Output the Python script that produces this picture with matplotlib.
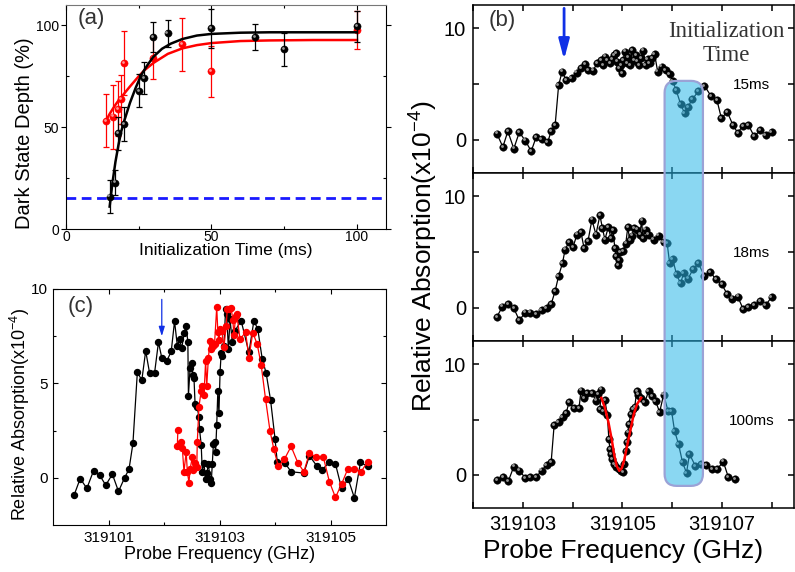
import matplotlib

matplotlib.use("Agg")

import matplotlib.pyplot as plt
from matplotlib.colors import to_rgba
from matplotlib.patches import FancyBboxPatch
from matplotlib.ticker import FixedLocator, FormatStrFormatter
from matplotlib.transforms import IdentityTransform, offset_copy

plt.rcParams["font.family"] = ["Liberation Sans", "DejaVu Sans"]
plt.rcParams["mathtext.default"] = "regular"

# ---- (a) dark state depth vs initialization time ----
A_T_BLACK = [15.0, 17.0, 17.8, 20.0, 25.1, 26.9, 29.9, 34.9, 50.0, 65.1, 74.9, 100.0]
A_D_BLACK = [15.9, 22.8, 47.0, 51.6, 67.9, 74.1, 94.3, 96.1, 98.5, 94.3, 88.2, 99.5]
A_E_BLACK = [8.2, 6.0, 8.0, 8.5, 8.0, 8.0, 7.5, 6.5, 9.5, 6.5, 8.0, 7.5]
A_T_RED = [13.9, 16.2, 17.8, 18.9, 20.0, 30.0, 39.9, 49.8, 100.0]
A_D_RED = [53.1, 55.2, 59.0, 63.8, 81.5, 83.8, 90.8, 77.4, 97.9]
A_E_RED = [13.0, 15.7, 13.5, 12.0, 15.5, 10.0, 13.0, 12.5, 9.3]
A_FIT_T_BLACK = [15, 16, 17, 18, 19, 20, 22, 24, 26, 28, 30, 33, 36, 40, 45, 50, 60, 70, 85, 100]
A_FIT_D_BLACK = [11, 23, 33, 41, 48, 53, 62, 69.5, 76, 80.5, 84.5, 88.5, 91, 93.3, 95, 95.8, 96.4, 96.6, 96.6, 96.6]
A_FIT_T_RED = [13.9, 15, 16, 17, 18, 20, 22, 25, 27, 30, 35, 40, 45, 50, 60, 70, 85, 100]
A_FIT_D_RED = [53.6, 56.5, 58.8, 61, 63, 66.5, 70, 75, 78, 81.5, 86, 88.7, 90.3, 91.3, 92.3, 92.6, 92.8, 92.8]
A_BASELINE = 15.0

# ---- (b) absorption spectra for three initialization times ----
B_F15 = [319102.48, 319102.60, 319102.70, 319102.82, 319102.93, 319103.05, 319103.17, 319103.27,
         319103.38, 319103.50, 319103.57, 319103.65, 319103.72, 319103.79, 319103.87, 319103.98,
         319104.08, 319104.17, 319104.25, 319104.32, 319104.41, 319104.50, 319104.57, 319104.61,
         319104.65, 319104.70, 319104.75, 319104.79, 319104.83, 319104.87, 319104.90, 319104.93,
         319104.97, 319105.00, 319105.02, 319105.05, 319105.09, 319105.12, 319105.15, 319105.20,
         319105.23, 319105.27, 319105.30, 319105.33, 319105.37, 319105.42, 319105.47, 319105.51,
         319105.55, 319105.60, 319105.65, 319105.71, 319105.79, 319105.87, 319105.95, 319106.01,
         319106.08, 319106.17, 319106.25, 319106.32, 319106.41, 319106.53, 319106.65, 319106.78,
         319106.90, 319106.99, 319107.11, 319107.22, 319107.32, 319107.42, 319107.53, 319107.65,
         319107.77, 319107.88, 319108.00]
B_A15 = [0.54, -0.66, 0.75, -0.81, 0.66, -0.09, -1.04, 0.24, 0.06, -0.24, 0.75, 1.28, 4.87, 6.12,
         5.37, 5.52, 6.03, 6.42, 6.81, 6.27, 6.21, 6.87, 7.16, 6.72, 7.46, 7.16, 6.87, 7.25, 7.61,
         7.76, 7.01, 6.42, 6.72, 5.97, 7.16, 7.91, 6.87, 7.40, 6.72, 8.06, 7.16, 7.61, 7.01, 6.72,
         7.31, 8.00, 6.72, 7.22, 6.87, 7.31, 7.67, 6.12, 6.57, 6.27, 5.91, 5.28, 4.48, 3.22, 2.39,
         2.93, 3.67, 4.33, 4.84, 3.94, 3.58, 1.94, 2.48, 1.34, 0.60, 1.25, 1.34, 0.30, 0.84, 0.39,
         0.69]
B_F18 = [319102.48, 319102.59, 319102.71, 319102.82, 319102.93, 319103.05, 319103.15, 319103.27,
         319103.38, 319103.48, 319103.57, 319103.65, 319103.72, 319103.80, 319103.85, 319103.93,
         319104.01, 319104.09, 319104.17, 319104.23, 319104.31, 319104.39, 319104.47, 319104.55,
         319104.60, 319104.65, 319104.72, 319104.77, 319104.81, 319104.85, 319104.88, 319104.91,
         319104.93, 319104.95, 319105.01, 319105.07, 319105.11, 319105.15, 319105.20, 319105.23,
         319105.30, 319105.35, 319105.39, 319105.41, 319105.47, 319105.53, 319105.63, 319105.73,
         319105.83, 319105.90, 319105.95, 319106.01, 319106.09, 319106.17, 319106.23, 319106.32,
         319106.42, 319106.53, 319106.65, 319106.77, 319106.88, 319107.00, 319107.11, 319107.21,
         319107.32, 319107.43, 319107.53, 319107.65, 319107.77, 319107.88, 319108.00]
B_A18 = [-0.84, 0.09, 0.30, -0.06, -1.13, -0.45, -0.45, -0.60, -0.24, -0.06, 0.30, 1.49, 2.84,
         4.03, 5.22, 5.88, 5.46, 6.57, 6.78, 5.37, 5.97, 7.91, 6.57, 8.30, 7.16, 6.12, 7.25, 6.27,
         6.96, 5.37, 4.63, 3.79, 4.27, 5.01, 5.07, 5.76, 7.22, 6.06, 6.48, 7.16, 7.01, 6.57, 7.82,
         6.27, 7.01, 6.57, 6.12, 6.48, 5.88, 5.82, 4.03, 4.39, 2.99, 2.18, 3.07, 2.60, 3.43, 3.97,
         2.84, 3.19, 2.54, 2.09, 1.19, 0.81, 0.99, -0.15, 0.03, 0.21, 0.60, 0.21, 0.96]
B_F100 = [319102.48, 319102.60, 319102.71, 319102.82, 319102.93, 319103.05, 319103.15, 319103.27,
          319103.38, 319103.48, 319103.57, 319103.63, 319103.72, 319103.80, 319103.87, 319103.93,
          319104.03, 319104.13, 319104.17, 319104.23, 319104.30, 319104.39, 319104.47, 319104.52,
          319104.58, 319104.55, 319104.61, 319104.65, 319104.70, 319104.73, 319104.75, 319104.77,
          319104.80, 319104.83, 319104.88, 319104.93, 319104.98, 319105.02, 319105.04, 319105.07,
          319105.09, 319105.11, 319105.13, 319105.17, 319105.21, 319105.25, 319105.29, 319105.32,
          319105.37, 319105.45, 319105.53, 319105.60, 319105.67, 319105.75, 319105.83, 319105.92,
          319105.99, 319106.05, 319106.13, 319106.21, 319106.29, 319106.35, 319106.47, 319106.58,
          319106.69, 319106.80, 319106.91, 319107.03, 319107.13, 319107.27]
B_A100 = [-0.45, -0.21, -0.57, 0.75, 0.39, -0.27, -0.21, -0.21, 0.39, 0.90, 1.13, 4.48, 4.78,
          5.22, 5.55, 6.57, 6.03, 6.03, 7.61, 6.93, 7.40, 7.40, 6.72, 7.31, 7.70, 5.91, 5.76, 6.78,
          5.37, 3.22, 2.33, 1.88, 1.43, 0.99, 0.75, 0.54, 0.39, 0.24, 0.99, 2.18, 2.93, 3.82, 4.57,
          5.46, 5.91, 6.15, 7.55, 7.25, 6.96, 6.57, 7.55, 7.10, 6.66, 5.67, 7.25, 5.76, 5.76, 3.97,
          2.78, 1.13, 0.18, 1.88, 0.78, 0.99, 0.90, 0.54, 0.54, 1.19, -0.21, -0.42]
B_FIT_F100 = [319104.58, 319104.65, 319104.72, 319104.79, 319104.84, 319104.89, 319104.94,
              319104.99, 319105.04, 319105.10, 319105.17, 319105.23, 319105.30, 319105.38]
B_FIT_A100 = [6.96, 6.06, 4.78, 3.13, 1.73, 0.78, 0.36, 0.60, 1.37, 2.69, 4.18, 5.49, 6.42, 6.96]
B_LABELS = ["15ms", "18ms", "100ms"]
B_MARK_FREQ = 319103.83
INIT_BAND = (319105.85, 319106.62)
INIT_BAND_ABS = (5.28, -1.0)

# ---- (c) absorption spectra, two probe sweeps ----
C_F_BLACK = [319100.38, 319100.49, 319100.61, 319100.73, 319100.84, 319100.95, 319101.07, 319101.18,
             319101.29, 319101.37, 319101.44, 319101.52, 319101.60, 319101.67, 319101.74, 319101.83,
             319101.90, 319101.96, 319102.05, 319102.13, 319102.19, 319102.24, 319102.28, 319102.32,
             319102.36, 319102.40, 319102.43, 319102.44, 319102.47, 319102.50, 319102.52, 319102.54,
             319102.56, 319102.60, 319102.63, 319102.64, 319102.67, 319102.69, 319102.72, 319102.75,
             319102.77, 319102.80, 319102.83, 319102.85, 319102.87, 319102.89, 319102.91, 319102.93,
             319102.95, 319102.97, 319102.99, 319103.01, 319103.03, 319103.05, 319103.08, 319103.11,
             319103.13, 319103.16, 319103.19, 319103.23, 319103.28, 319103.39, 319103.53, 319103.62,
             319103.69, 319103.77, 319103.84, 319103.92, 319104.00, 319104.04, 319104.18, 319104.29,
             319104.52, 319104.62, 319104.75, 319104.85, 319104.98, 319105.09, 319105.20, 319105.32,
             319105.43, 319105.54, 319105.67]
C_A_BLACK = [-0.92, -0.04, -0.56, 0.37, 0.14, -0.39, 0.19, -0.72, 0.0, 0.46, 1.82, 5.6, 5.16, 6.72,
             5.55, 5.55, 7.18, 6.36, 6.19, 6.69, 8.29, 7.0, 7.34, 6.86, 7.65, 8.05, 7.17, 4.35, 5.8,
             6.1, 5.44, 5.3, 3.9, 3.73, 3.2, 2.57, 1.76, 0.33, 0.76, -0.07, 0.25, 0.72, -0.04, -0.3,
             0.72, 1.78, 1.92, 1.39, 2.79, 4.6, 3.42, 5.58, 6.6, 6.46, 7.0, 8.94, 8.67, 6.82, 8.4, 7.2,
             7.79, 8.32, 6.64, 8.32, 7.87, 6.29, 5.55, 4.12, 2.08, 0.85, 0.78, 0.32, 0.25, 1.17, 0.64,
             0.43, 0.82, 0.73, -0.56, -0.07, -1.06, 0.82, 0.6]
C_F_RED = [319102.25, 319102.24, 319102.31, 319102.33, 319102.36, 319102.40, 319102.42, 319102.45,
           319102.47, 319102.51, 319102.53, 319102.56, 319102.59, 319102.60, 319102.63, 319102.67,
           319102.69, 319102.72, 319102.75, 319102.77, 319102.80, 319102.83, 319102.85, 319102.89,
           319102.91, 319102.95, 319102.97, 319102.99, 319103.01, 319103.04, 319103.08, 319103.12,
           319103.14, 319103.18, 319103.21, 319103.24, 319103.26, 319103.29, 319103.31, 319103.37,
           319103.47, 319103.53, 319103.60, 319103.68, 319103.75, 319103.83, 319103.91, 319103.98,
           319104.06, 319104.17, 319104.29, 319104.41, 319104.52, 319104.62, 319104.74, 319104.87,
           319104.98, 319105.09, 319105.20, 319105.31, 319105.43, 319105.55, 319105.67]
C_A_RED = [2.53, 1.69, 1.87, 1.57, 0.33, 1.38, 0.33, -0.25, 0.46, 1.08, 0.42, 0.81, 0.55, 1.9,
           3.77, 4.6, 4.84, 4.37, 6.19, 4.86, 6.36, 7.27, 6.84, 6.98, 7.07, 9.04, 7.72, 7.29, 7.86,
           7.77, 6.93, 8.04, 8.93, 8.96, 9.0, 8.35, 7.55, 8.56, 8.69, 7.33, 7.72, 6.36, 7.69, 7.07,
           6.0, 4.16, 2.48, 1.51, 0.6, 0.99, 1.66, 0.81, 0.32, 1.3, 1.11, 1.11, -0.21, -1.04, -0.33,
           0.46, 0.46, 0.32, 0.85]
C_MARK_FREQ = 319101.96

RED = "#ff0000"
BLUE = "#1030e6"
W, H = 795, 572


def box(left, top, right, bottom):
    return [left / W, 1 - bottom / H, (right - left) / W, (bottom - top) / H]


def style_axis(ax, size, major, minor, lw, pad):
    ax.tick_params(which="both", direction="in", top=True, right=True, width=lw,
                   labelsize=size, pad=pad)
    ax.tick_params(which="major", length=major)
    ax.tick_params(which="minor", length=minor)
    for spine in ax.spines.values():
        spine.set_linewidth(lw)


def spheres(ax, x, y, color, shine, size, zorder=3):
    ax.plot(x, y, ls="none", marker="o", ms=size, mfc=color, mec=color, mew=0.3, zorder=zorder)
    glint = offset_copy(ax.transData, fig=ax.figure, x=-size * 0.16, y=size * 0.16, units="points")
    ax.plot(x, y, ls="none", marker="o", ms=size * 0.38, mfc=shine, mec="none", alpha=0.85,
            transform=glint, zorder=zorder + 0.1)


fig = plt.figure(figsize=(W / 100, H / 100), dpi=100)

# ---------------- panel (a) ----------------
ax_a = fig.add_axes(box(66, 5, 386, 229))
ax_a.axhline(A_BASELINE, color="#1a1aff", lw=2.0, ls=(0, (3.5, 2)), zorder=1)
ax_a.errorbar(A_T_RED, A_D_RED, yerr=A_E_RED, fmt="none", ecolor=RED, elinewidth=0.9,
              capsize=2.5, capthick=0.9, zorder=2)
ax_a.plot(A_FIT_T_RED, A_FIT_D_RED, color=RED, lw=1.8, zorder=2.5)
spheres(ax_a, A_T_RED, A_D_RED, RED, "#ffb0b0", 5.2, zorder=3)
ax_a.errorbar(A_T_BLACK, A_D_BLACK, yerr=A_E_BLACK, fmt="none", ecolor="black", elinewidth=0.9,
              capsize=2.5, capthick=0.9, zorder=4)
ax_a.plot(A_FIT_T_BLACK, A_FIT_D_BLACK, color="black", lw=1.8, zorder=4.5)
spheres(ax_a, A_T_BLACK, A_D_BLACK, "black", "#b5b5b5", 5.2, zorder=5)
ax_a.set_xlim(0, 110)
ax_a.set_ylim(0, 110)
ax_a.xaxis.set_major_locator(FixedLocator([0, 50, 100]))
ax_a.xaxis.set_minor_locator(FixedLocator([25, 75]))
ax_a.yaxis.set_major_locator(FixedLocator([0, 50, 100]))
ax_a.yaxis.set_minor_locator(FixedLocator([25, 75]))
style_axis(ax_a, 10, 3.5, 2.2, 0.8, 1)
ax_a.tick_params(axis="y", which="major", direction="out", length=3.5, pad=1.5)
ax_a.spines["top"].set_color("#777777")
ax_a.set_xlabel("Initialization Time (ms)", fontsize=12.5, va="top")
ax_a.xaxis.set_label_coords(0.498, -0.064)
ax_a.set_ylabel("Dark State Depth (%)", fontsize=14.5)
ax_a.yaxis.set_label_coords(-0.1, 0.426)
ax_a.text(0.035, 0.985, "(a)", transform=ax_a.transAxes, ha="left", va="top",
          fontsize=16, color="#333333")

# ---------------- panel (c) ----------------
ax_c = fig.add_axes(box(53, 289, 386, 525))
ax_c.plot(C_F_BLACK, C_A_BLACK, color="black", lw=0.9, marker="o", ms=4.3, zorder=3)
ax_c.plot(C_F_RED, C_A_RED, color=RED, lw=0.9, marker="o", ms=4.3, mec=RED, zorder=4)
ax_c.annotate("", xy=(C_MARK_FREQ, 7.5), xytext=(C_MARK_FREQ, 9.45),
              arrowprops=dict(arrowstyle="-|>,head_length=0.7,head_width=0.22", color=BLUE,
                              lw=0.9, shrinkA=0, shrinkB=0, mutation_scale=8))
ax_c.set_xlim(319100, 319106)
ax_c.set_ylim(-2.5, 10)
ax_c.xaxis.set_major_locator(FixedLocator([319101, 319103, 319105]))
ax_c.xaxis.set_minor_locator(FixedLocator([319102, 319104]))
ax_c.xaxis.set_major_formatter(FormatStrFormatter("%.0f"))
ax_c.yaxis.set_major_locator(FixedLocator([0, 5, 10]))
ax_c.yaxis.set_minor_locator(FixedLocator([2.5, 7.5]))
style_axis(ax_c, 11, 3.5, 2.2, 0.8, 4)
ax_c.set_xlabel("Probe Frequency (GHz)", fontsize=13, va="top")
ax_c.xaxis.set_label_coords(0.5, -0.09)
ax_c.set_ylabel("Relative Absorption(x10$^{-4}$)", fontsize=13)
ax_c.yaxis.set_label_coords(-0.063, 0.47)
ax_c.text(0.045, 0.97, "(c)", transform=ax_c.transAxes, ha="left", va="top",
          fontsize=16, color="#333333")

# ---------------- panel (b) ----------------
ax_b1 = fig.add_axes(box(473, 5, 794, 173))
ax_b2 = fig.add_axes(box(473, 173, 794, 341), sharex=ax_b1)
ax_b3 = fig.add_axes(box(473, 341, 794, 508), sharex=ax_b1)
series = [(ax_b1, B_F15, B_A15), (ax_b2, B_F18, B_A18), (ax_b3, B_F100, B_A100)]
for (ax, f, a), label in zip(series, B_LABELS):
    ax.plot(f, a, color="black", lw=0.9, zorder=2)
    spheres(ax, f, a, "black", "#b0b0b0", 5.4, zorder=3)
    ax.set_ylim(-3, 12.1)
    ax.yaxis.set_major_locator(FixedLocator([0, 10]))
    ax.yaxis.set_minor_locator(FixedLocator([5]))
    style_axis(ax, 14.5, 4.5, 3.5, 1.1, 5)
    ax.text(319107.6, 4.9, label, ha="center", va="center", fontsize=11)
ax_b3.plot(B_FIT_F100, B_FIT_A100, color=RED, lw=1.8, zorder=4)
ax_b1.set_xlim(319102, 319108.45)
ax_b1.xaxis.set_major_locator(FixedLocator([319103, 319105, 319107]))
ax_b1.xaxis.set_minor_locator(FixedLocator([319102, 319104, 319106, 319108]))
ax_b1.xaxis.set_major_formatter(FormatStrFormatter("%.0f"))
for ax in (ax_b1, ax_b2, ax_b3):
    ax.tick_params(which="minor", length=4.5)
for ax in (ax_b1, ax_b2):
    ax.tick_params(labelbottom=False)
ax_b3.set_xlabel("Probe Frequency (GHz)", fontsize=19, va="top")
ax_b3.xaxis.set_label_coords(0.466, -0.185)
fig.text(424 / W, 1 - 256 / H, "Relative Absorption(x10$^{-4}$)", rotation=90,
         ha="center", va="center", fontsize=19)
ax_b1.text(0.05, 0.97, "(b)", transform=ax_b1.transAxes, ha="left", va="top",
           fontsize=16, color="#333333")
ax_b1.text(0.79, 0.77, "Initialization\nTime", transform=ax_b1.transAxes, ha="center",
           va="center", fontsize=16.5, family=["Liberation Serif", "DejaVu Serif"],
           color="#333333", linespacing=1.15)
ax_b1.annotate("", xy=(B_MARK_FREQ, 7.2), xytext=(B_MARK_FREQ, 11.8),
               arrowprops=dict(arrowstyle="-|>,head_length=1.2,head_width=0.32", color=BLUE,
                               lw=2.0, shrinkA=0, shrinkB=0, mutation_scale=10))

# shaded initialization window spanning all three spectra
x0, y_top = ax_b1.transData.transform((INIT_BAND[0], INIT_BAND_ABS[0]))
x1, y_bot = ax_b3.transData.transform((INIT_BAND[1], INIT_BAND_ABS[1]))
band = FancyBboxPatch((x0, y_bot), x1 - x0, y_top - y_bot,
                      boxstyle="round,pad=0,rounding_size=12",
                      fc=to_rgba("#2ab6e9", 0.55), ec="#9ba2d6", lw=1.6,
                      transform=IdentityTransform(), zorder=10)
fig.add_artist(band)

fig.savefig("out.png", dpi=100)
